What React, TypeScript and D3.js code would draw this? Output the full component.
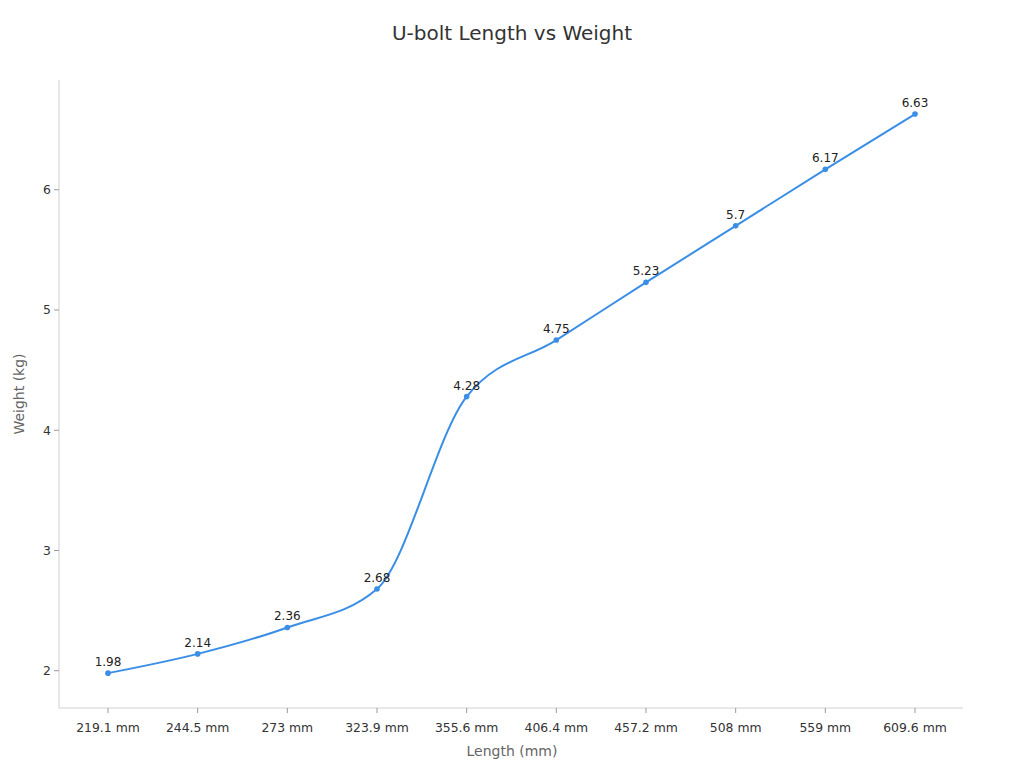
import React from "react";
import * as d3 from "d3";

const categories = ["219.1 mm", "244.5 mm", "273 mm", "323.9 mm", "355.6 mm", "406.4 mm", "457.2 mm", "508 mm", "559 mm", "609.6 mm"];
const weights = [1.98, 2.14, 2.36, 2.68, 4.28, 4.75, 5.23, 5.7, 6.17, 6.63];
const yTicks = [2, 3, 4, 5, 6];
const yDomain: [number, number] = [1.69, 6.913];

const W = 1024;
const H = 768;
const left = 59;
const right = 963;
const top = 80;
const bottom = 708;
const font = "DejaVu Sans, sans-serif";
const lineColor = "#3a8ee6";

export default function App() {
  const x = d3.scalePoint<string>().domain(categories).range([108, 915]);
  const y = d3.scaleLinear().domain(yDomain).range([bottom, top]);
  const line = d3
    .line<number>()
    .x((_, i) => x(categories[i]) as number)
    .y((d) => y(d))
    .curve(d3.curveMonotoneX);

  return (
    <div style={{ position: "absolute", left: 0, top: 0 }}>
      <svg width={W} height={H} style={{ display: "block", background: "#fff" }} fontFamily={font}>
        <text x={512} y={40} textAnchor="middle" fontSize={20} fill="#333">
          U-bolt Length vs Weight
        </text>
        {/* axes */}
        <line x1={left} x2={left} y1={top} y2={bottom} stroke="#d0d0d0" strokeWidth={1} />
        <line x1={left} x2={right} y1={bottom} y2={bottom} stroke="#d0d0d0" strokeWidth={1} />
        {yTicks.map((t) => (
          <g key={t}>
            <line x1={left - 5} x2={left} y1={y(t)} y2={y(t)} stroke="#999" />
            <text x={left - 8} y={y(t)} dy="0.35em" textAnchor="end" fontSize={12.4} fill="#333">
              {t}
            </text>
          </g>
        ))}
        {categories.map((c) => (
          <g key={c}>
            <line x1={x(c)} x2={x(c)} y1={bottom} y2={bottom + 5} stroke="#999" />
            <text x={x(c)} y={bottom + 20} dy="0.35em" textAnchor="middle" fontSize={12.4} fill="#333">
              {c}
            </text>
          </g>
        ))}
        <text x={512} y={756} textAnchor="middle" fontSize={14} fill="#666">
          Length (mm)
        </text>
        <text
          transform={`translate(24, ${(top + bottom) / 2}) rotate(-90)`}
          textAnchor="middle"
          fontSize={14}
          fill="#666"
        >
          Weight (kg)
        </text>
        <path d={line(weights) || ""} fill="none" stroke={lineColor} strokeWidth={2} />
        {weights.map((v, i) => (
          <g key={i}>
            <circle cx={x(categories[i])} cy={y(v)} r={2.8} fill={lineColor} />
            <text x={x(categories[i])} y={y(v) - 7} textAnchor="middle" fontSize={12} fill="#222">
              {v}
            </text>
          </g>
        ))}
      </svg>
    </div>
  );
}
